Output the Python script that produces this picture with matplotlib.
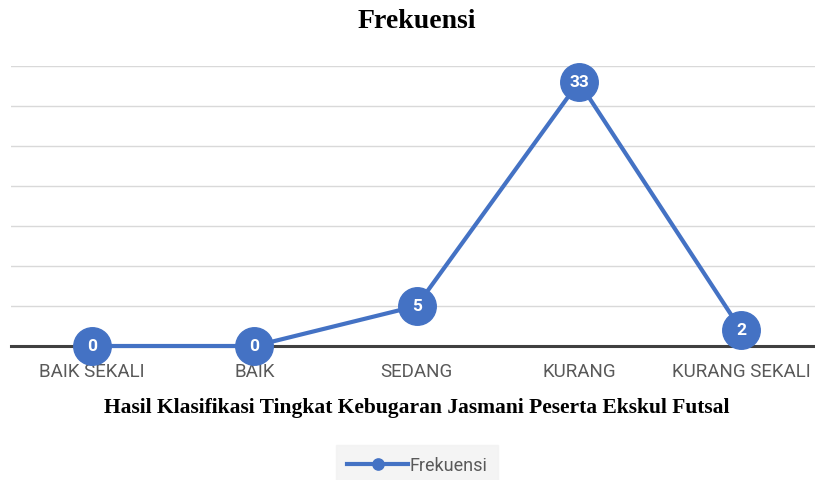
import matplotlib
matplotlib.use("Agg")
import matplotlib.pyplot as plt

categories = ["BAIK SEKALI", "BAIK", "SEDANG", "KURANG", "KURANG SEKALI"]
values = [0, 0, 5, 33, 2]
series_name = "Frekuensi"
title = "Frekuensi"
xlabel = "Hasil Klasifikasi Tingkat Kebugaran Jasmani Peserta Ekskul Futsal"

W, H = 815, 481
fig = plt.figure(figsize=(W / 100, H / 100), dpi=100)
ax = fig.add_axes([11 / W, 134 / H, 811.25 / W, 280 / H])

blue = "#4472C4"
x = list(range(len(categories)))
line, = ax.plot(x, values, color=blue, lw=3.0, marker="o", ms=27,
                markerfacecolor=blue, markeredgecolor=blue, zorder=5,
                clip_on=False, label=series_name)
for xi, v in zip(x, values):
    ax.text(xi, v, str(v), color="white", fontsize=12.5, fontweight="bold",
            ha="center", va="center", zorder=6, family="Roboto")

ax.set_xlim(-0.5, len(categories) - 0.5)
ax.set_ylim(0, 35)
ax.set_yticks(range(0, 36, 5))
ax.yaxis.grid(True, color="#d9d9d9", lw=1)
ax.set_axisbelow(True)
for s in ["top", "right", "left"]:
    ax.spines[s].set_visible(False)
ax.spines["bottom"].set_color("#404040")
ax.spines["bottom"].set_linewidth(2.2)
ax.tick_params(axis="y", left=False, labelleft=False)
ax.tick_params(axis="x", bottom=False, pad=8)
ax.set_xticks(x)
ax.set_xticklabels(categories, fontsize=13.5, color="#595959", family="Roboto")

cx = 417 / W
fig.text(cx, 1 - 21 / H, title, ha="center", va="center", fontsize=20,
         fontweight="bold", family="Liberation Serif", color="#000000")
fig.text(cx, 1 - 408 / H, xlabel, ha="center", va="center", fontsize=15.5,
         fontweight="bold", family="Liberation Serif", color="#000000")

leg = fig.legend(handles=[line], loc="center", bbox_to_anchor=(cx, 1 - 466 / H),
                 frameon=True, fancybox=False, handlelength=3.4, handletextpad=0.05,
                 prop={"family": "Roboto", "size": 13}, markerscale=0.3,
                 borderpad=0.6)
leg.get_frame().set_facecolor("#f2f2f2")
leg.get_frame().set_edgecolor("#f2f2f2")
for t in leg.get_texts():
    t.set_color("#595959")

fig.savefig("out.png", dpi=100, facecolor="white")
